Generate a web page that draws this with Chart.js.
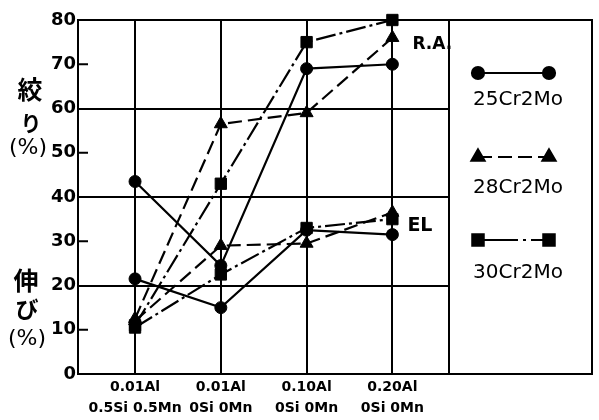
<!DOCTYPE html>
<html><head><meta charset="utf-8">
<script src="https://cdn.jsdelivr.net/npm/chart.js@4"></script>
<style>html,body{margin:0;padding:0;background:#fff}</style>
</head><body>
<canvas id="c" width="599" height="420"></canvas>
<script>
// ---- data ----
const categories = [["0.01Al","0.5Si 0.5Mn"],["0.01Al","0Si 0Mn"],["0.10Al","0Si 0Mn"],["0.20Al","0Si 0Mn"]];
const xIdx = [0, 1, 2, 3];
const steels = ["25Cr2Mo", "28Cr2Mo", "30Cr2Mo"];
const ra25 = [43.5, 24.5, 69, 70];
const ra28 = [12.5, 56.5, 59, 76];
const ra30 = [11, 43, 75, 80];
const el25 = [21.5, 15, 32.5, 31.5];
const el28 = [12, 29, 29.5, 36.5];
const el30 = [10.5, 22.5, 33, 35];
const yTicks = [0, 10, 20, 30, 40, 50, 60, 70, 80];
const majorTicks = [0, 20, 40, 60, 80];
const minorTicks = [10, 30, 50, 70];

// ---- styles ----
const steelStyle = {
  "25Cr2Mo": {pointStyle: 'circle',   radius: 6,   dash: []},
  "28Cr2Mo": {pointStyle: 'triangle', radius: 7.5, dash: [14, 6]},
  "30Cr2Mo": {pointStyle: 'rect',     radius: 8,   dash: [20, 4, 3, 4]}
};
const series = [
  {steel: "25Cr2Mo", kind: "R.A.", values: ra25},
  {steel: "28Cr2Mo", kind: "R.A.", values: ra28},
  {steel: "30Cr2Mo", kind: "R.A.", values: ra30},
  {steel: "25Cr2Mo", kind: "EL", values: el25},
  {steel: "28Cr2Mo", kind: "EL", values: el28},
  {steel: "30Cr2Mo", kind: "EL", values: el30}
];
const datasets = series.map(s => {
  const st = steelStyle[s.steel];
  return {
    label: s.steel + ' ' + s.kind,
    data: s.values.map((v, i) => ({x: xIdx[i], y: v})),
    borderColor: '#000', backgroundColor: '#000',
    borderWidth: 2.2, borderDash: st.dash,
    pointStyle: st.pointStyle, pointRadius: st.radius,
    pointBorderWidth: 1, pointBorderColor: '#000', pointBackgroundColor: '#000',
    tension: 0, clip: false
  };
});

const decor = {
  id: 'decor',
  afterDraw(chart) {
    const {ctx, chartArea, scales: {x, y}} = chart;
    const top = y.getPixelForValue(80), bot = y.getPixelForValue(0);
    const L = chartArea.right, R = 592;
    ctx.save();
    ctx.strokeStyle = '#000'; ctx.fillStyle = '#000'; ctx.lineWidth = 2;
    // legend box
    ctx.beginPath();
    ctx.moveTo(L, top); ctx.lineTo(R, top); ctx.lineTo(R, bot); ctx.lineTo(L - 1, bot);
    ctx.moveTo(L, top); ctx.lineTo(L, bot);
    ctx.stroke();
    // minor ticks
    ctx.beginPath();
    minorTicks.forEach(v => { const py = y.getPixelForValue(v); ctx.moveTo(chartArea.left, py); ctx.lineTo(chartArea.left + 10, py); });
    ctx.stroke();
    // legend entries
    const rowY = [73, 157, 240], labY = [100, 188, 273];
    ctx.lineWidth = 2.2;
    steels.forEach((s, i) => {
      const st = steelStyle[s];
      ctx.beginPath(); ctx.setLineDash(i === 2 ? [40, 5, 3, 5] : st.dash);
      ctx.moveTo(478, rowY[i]); ctx.lineTo(549, rowY[i]); ctx.stroke();
      ctx.setLineDash([]);
      [478, 549].forEach(px => {
        Chart.helpers.drawPoint(ctx, {pointStyle: st.pointStyle, radius: st.radius, rotation: 0, borderWidth: 1}, px, rowY[i]);
      });
      ctx.font = '20px "DejaVu Sans"'; ctx.textAlign = 'center'; ctx.textBaseline = 'middle';
      ctx.fillText(s, 518, labY[i]);
    });
    // annotations
    ctx.textAlign = 'left';
    ctx.font = 'bold 17px "DejaVu Sans"';
    ctx.fillText('R.A.', x.getPixelForValue(3) + 20, y.getPixelForValue(74.5));
    ctx.font = 'bold 19px "DejaVu Sans"';
    ctx.fillText('EL', x.getPixelForValue(3) + 15, y.getPixelForValue(33.5));
    // y-axis titles
    ctx.textAlign = 'center';
    ctx.font = 'bold 25px "Noto Sans CJK JP"';
    ctx.fillText('絞', 30, 89);
    ctx.font = 'bold 21px "Noto Sans CJK JP"';
    ctx.fillText('り', 31, 123);
    ctx.font = 'bold 25px "Noto Sans CJK JP"';
    ctx.fillText('伸', 26, 280);
    ctx.font = 'bold 23px "Noto Sans CJK JP"';
    ctx.fillText('び', 27, 309);
    ctx.font = '22px "DejaVu Sans"';
    ctx.fillText('(%)', 28, 148);
    ctx.fillText('(%)', 27, 339);
    ctx.restore();
  }
};

new Chart(document.getElementById('c'), {
  type: 'line',
  data: {datasets},
  options: {
    responsive: false, animation: false, devicePixelRatio: 1,
    layout: {padding: {top: 20, right: 150, left: 0, bottom: 0}},
    plugins: {legend: {display: false}, tooltip: {enabled: false}},
    scales: {
      x: {
        type: 'linear', min: -0.665, max: 3.66,
        afterBuildTicks: s => { s.ticks = xIdx.map(v => ({value: v})); },
        afterFit: s => { s.height = 46; },
        grid: {color: '#000', lineWidth: 2, drawTicks: false},
        border: {color: '#000', width: 2},
        ticks: {
          autoSkip: false, maxRotation: 0, padding: 3, color: '#000',
          font: {family: 'DejaVu Sans', size: 14, weight: 'bold', lineHeight: 1.5},
          callback: v => categories[Math.round(v)]
        }
      },
      y: {
        min: 0, max: 80,
        afterBuildTicks: s => { s.ticks = yTicks.map(v => ({value: v})); },
        afterFit: s => { s.width = 78; },
        grid: {color: c => majorTicks.includes(c.tick && c.tick.value) ? '#000' : 'rgba(0,0,0,0)', lineWidth: 2, drawTicks: false},
        border: {color: '#000', width: 2},
        ticks: {padding: 2, color: '#000', font: {family: 'DejaVu Sans', size: 18, weight: 'bold'}}
      }
    }
  },
  plugins: [decor]
});
</script>
</body></html>
